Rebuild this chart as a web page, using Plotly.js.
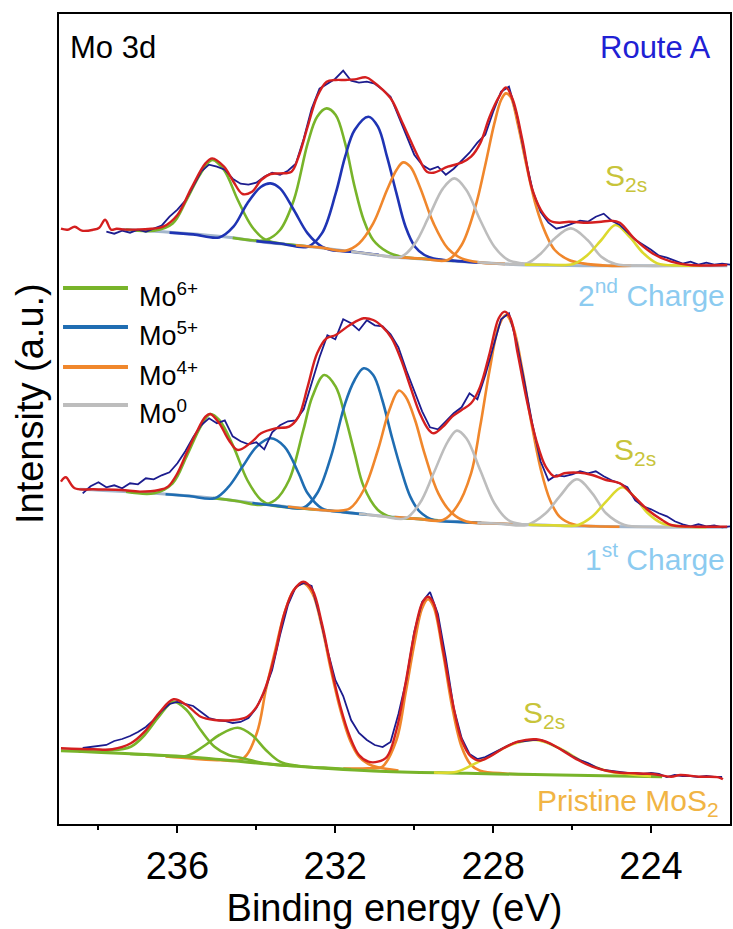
<!DOCTYPE html>
<html>
<head>
<meta charset="utf-8">
<script src="https://cdn.plot.ly/plotly-3.0.1.min.js"></script>
<style>html,body{margin:0;padding:0;background:#fff;}#chart{width:733px;height:929px;}</style>
</head>
<body>
<div id="chart"></div>
<script>
// ---------- DATA (binding energy in eV, intensity in a.u.) ----------
const stateNames = ["Mo<sup>6+</sup>", "Mo<sup>5+</sup>", "Mo<sup>4+</sup>", "Mo<sup>0</sup>"];
const spectrumLabels = ["2<sup>nd</sup> Charge", "1<sup>st</sup> Charge", "Pristine MoS<sub>2</sub>"];
const xTicks = [236, 232, 228, 224];

// ===== 2nd charge (top) =====
const topRawStart = 237.8;
const topRaw = [35,33,36,34,37,35,38,41,50,57, 66,80,95,102,100,97,88,83,82,84,
  90,94,92,96,103,128,158,178,183,188, 196,186,184,185,183,177,170,150,130,112,
  102,97,100,92,98,106,114,124,132,155, 175,180,152,112,76,55,44,38,40,43,
  46,45,50,53,46,42,34,27,22,17, 11,9,6,3,5,2,4,2,3,2];
const topFitE = [238.95,238.78,238.6,238.42,238.13,237.98,237.83,237.68,237.54,237.39,236.95,236.36,236.0,235.65,235.29,235.12,234.82,234.58,234.35,234.11,233.88,233.64,233.40,233.11,232.93,232.70,232.46,232.22,231.99,231.75,231.51,231.22,231.04,230.81,230.57,230.33,230.10,229.86,229.68,229.51,229.15,228.80,228.56,228.33,228.09,227.85,227.68,227.50,227.26,227.03,226.79,226.56,226.32,226.08,225.61,225.26,225.02,224.79,224.43,223.96,223.49,223.01,222.07];
const topFitI = [38,37,40,36,37,39,47,37,38,37.3,37.3,40,51.7,78.3,103.3,108.3,100,85,72.7,75,86.7,92.7,93.3,95,110,140,170,185,186.7,186.7,187.3,189.3,185,177.3,166.7,146.7,126.7,106.7,95,94,100,104,110,123.3,150,170,179.3,166.7,126.7,80,56.7,46,44,45,44,45,46,44,28.3,13.3,5,1.7,1.7];
const topBaseE = [237.4,237.07,234.82,233.88,232.22,230.57,228.68,227.50,225.14,222.07];
const topBaseI = [37.3,36.7,30,25,18.3,10,5,2.3,1,1];
const topMo6aE = [237.3,236.59,236.12,235.77,235.41,235.12,234.82,234.47,234.11,233.76,233.2,232.6];
const topMo6aI = [37.2,36,43.3,66.7,93.3,106.7,96.7,66.7,40,26.7,22.3,19.9];
const topMo6bE = [234.6,234.2,233.76,233.40,233.05,232.70,232.46,232.22,231.99,231.75,231.51,231.28,231.04,230.69,230.33,229.6,229.0];
const topMo6bI = [28.8,26.8,26.7,36.7,66.7,123.3,150,158.3,151.7,123.3,80,46.7,26.7,15,10,7.5,5.8];
const topMo5aE = [236.2,235.6,234.94,234.58,234.23,233.88,233.64,233.40,233.05,232.70,232.34,232.11,231.5,230.9];
const topMo5aI = [34.1,32.3,29.3,40,63.3,80,83.3,78.3,56.7,33.3,20,16.7,14.7,11.8];
const topMo5bE = [234.0,233.4,232.70,232.34,231.99,231.75,231.51,231.16,230.92,230.69,230.45,230.22,229.98,229.74,229.51,228.9,228.3];
const topMo5bI = [25.6,23.2,20,33.3,73.3,110,136.7,150,140,110,73.3,40,20,11.7,8.3,5.6,4.0];
const topMo4aE = [233.0,232.4,231.75,231.40,231.04,230.69,230.45,230.28,230.10,229.86,229.51,229.15,228.80,228.3,227.7];
const topMo4aI = [21.5,19.3,16,23.3,43.3,76.7,96.7,104.3,100,80,43.3,18.3,8.3,4.1,2.8];
const topMo0aE = [231.6,231.0,230.33,229.98,229.63,229.27,228.98,228.68,228.33,227.97,227.62,227.26,226.6];
const topMo0aI = [15.2,12.2,10,23.3,50,78.3,88.3,76.7,46.7,20,6.7,3.3,1.9];
const topMo4bE = [230.4,229.8,229.15,228.80,228.45,228.21,227.97,227.80,227.68,227.56,227.38,227.15,226.91,226.67,226.44,226.08,225.73,225.1,224.5];
const topMo4bI = [9.6,8.0,6.7,21.7,60,100,143.3,166.7,173.3,170,143.3,100,60,33.3,16.7,6.7,3.3,1.0,1.0];
const topMo0bE = [228.4,227.8,227.15,226.79,226.44,226.03,225.61,225.26,224.90,224.2,223.5];
const topMo0bI = [4.4,3.0,3.3,13.3,28.3,38.3,26.7,10,2.7,1.0,1.0];
const topS2sE = [227.2,226.6,225.97,225.61,225.26,224.90,224.55,224.19,223.84,223.3,222.7];
const topS2sI = [2.1,1.9,2.7,11.7,26.7,41.7,30,13.3,3.3,1.2,1.0];

// ===== 1st charge (middle) =====
const midRawStart = 238.4;
const midRaw = [40,47,51,46,48,45,50,49,55,54, 58,61,70,82,96,108,115,110,113,97,
  92,89,91,84,101,108,112,113,124,150, 176,198,194,214,210,203,213,208,207,199,
  186,163,142,122,106,104,112,120,126,140, 134,158,186,214,220,190,150,108,72,53,
  58,57,59,62,60,62,57,53,50,46, 33,27,24,20,17,12,9,7,9,7, 8,6,7];
const midFitE = [238.95,238.83,238.60,238.13,237.42,236.95,236.47,236.24,236.00,235.77,235.53,235.29,235.17,234.94,234.70,234.47,234.11,233.88,233.52,233.17,232.93,232.70,232.46,232.22,231.99,231.63,231.28,231.04,230.81,230.57,230.33,230.10,229.86,229.63,229.51,229.27,229.04,228.80,228.56,228.33,228.09,227.86,227.71,227.56,227.38,227.15,226.91,226.67,226.44,226.20,225.85,225.49,225.14,224.79,224.43,224.08,223.72,223.49,223.01,222.07];
const midFitI = [51.7,56,45,44,43.3,41.7,43.3,46.7,60,80,100,116.7,119.3,110,93.3,83.3,91.7,100,105,106.7,116.7,146.7,180,195,198.3,208.3,215,213.3,206.7,195,173.3,146.7,120,103.3,100,106.7,116.7,123.3,130,146.7,180,215,221.7,215,180,133.3,93.3,66.7,56.7,60,60.7,58.3,53.3,50,36.7,23.3,13.3,8.3,6.7,6.7];
const midBaseE = [238.48,236.59,235.06,233.82,232.22,230.45,228.68,226.91,225.14,222.07];
const midBaseI = [44,40,35,29,22.7,16,11,8.3,6.7,6];
const midMo6aE = [237.3,236.59,236.12,235.77,235.41,235.17,234.94,234.58,234.23,233.88,233.64,233.1,232.5];
const midMo6aI = [41.5,40,50,76.7,106.7,119.3,113.3,86.7,53.3,33.3,28.3,25.5,23.8];
const midMo5aE = [236.3,235.7,235.06,234.70,234.35,233.99,233.64,233.29,232.93,232.70,232.34,231.8,231.2];
const midMo5aI = [39.1,37.3,35,46.7,66.7,86.7,95,86.7,60,40,25,21.2,18.9];
const midMo6bE = [235.1,234.5,233.88,233.52,233.17,232.81,232.58,232.28,231.99,231.75,231.51,231.28,230.92,230.57,230.0,229.4];
const midMo6bI = [35.2,32.3,28.3,33.3,53.3,103.3,136.7,158.3,146.7,116.7,80,46.7,23.3,16,14.7,13.0];
const midMo5bE = [234.1,233.5,232.81,232.46,232.11,231.75,231.51,231.28,231.04,230.81,230.57,230.33,230.10,229.86,229.51,228.9,228.3];
const midMo5bI = [30.3,27.7,25.5,40,76.7,130,153.3,165,158.3,133.3,96.7,63.3,36.7,21.7,13.3,11.4,10.4];
const midMo4aE = [233.2,232.6,231.99,231.63,231.28,230.92,230.63,230.39,230.22,229.98,229.74,229.39,229.04,228.68,228.1,227.5];
const midMo4aI = [26.6,24.2,22.5,25,43.3,83.3,123.3,142.7,136.7,113.3,80,40,20,11.7,10.0,9.2];
const midMo0aE = [231.4,230.8,230.22,229.86,229.51,229.15,228.92,228.68,228.33,227.97,227.62,227.26,226.7,226.1];
const midMo0aI = [19.6,17.0,15,30,60,91.7,102.7,95,63.3,30,13.3,9,8.2,7.6];
const midMo4bE = [230.5,229.9,229.27,228.92,228.56,228.33,228.09,227.86,227.68,227.50,227.26,227.03,226.79,226.56,226.32,225.97,225.4,224.8];
const midMo4bI = [16.2,14.4,13.3,26.7,60,106.7,163.3,206.7,218.3,206.7,163.3,110,63.3,33.3,16.7,9,7.0,6.6];
const midMo0bE = [228.4,227.8,227.15,226.67,226.32,225.88,225.49,225.14,224.67,224.0,223.4];
const midMo0bI = [10.5,9.6,8.3,20,36.7,54,40,20,8.3,6.5,6.3];
const midS2sE = [227.1,226.5,225.85,225.49,225.14,224.73,224.43,224.08,223.72,223.2,222.6];
const midS2sI = [8.6,8.0,8.3,16.7,31.7,46,36.7,20,10,6.8,6.1];

// ===== Pristine MoS2 (bottom) =====
const botRawStart = 238.4;
const botRaw = [32,33,34,35,39,41,44,48,53,60, 69,76,78,76,74,68,62,60,59,57,
  58,62,72,88,110,145,175,193,197,194, 165,130,100,84,60,47,40,35,33,38,
  66,100,148,178,188,166,122,72,42,26, 21,23,27,31,35,38,39,40,40,37,
  33,29,24,20,17,13,10,9,8,7, 7,6,7,6,3,5,4,4,3,4, 3,3];
const botFitE = [238.95,238.13,237.65,237.18,236.83,236.47,236.10,235.77,235.41,235.06,234.58,234.23,233.99,233.76,233.52,233.29,233.05,232.81,232.58,232.34,232.11,231.87,231.63,231.40,231.16,230.92,230.69,230.45,230.22,229.98,229.80,229.65,229.51,229.27,229.04,228.80,228.56,228.33,228.09,227.74,227.38,226.91,226.56,226.20,225.85,225.49,225.14,224.79,224.43,223.96,223.49,223.26,222.78,222.29,222.18];
const botFitI = [31.7,30.7,30.7,36.7,48.3,66.7,80.7,75,63.3,60,60,63.3,73.3,93.3,126.7,166.7,190,198.3,190,156.7,113.3,73.3,43.3,25,18.3,18.3,23.3,50,96.7,150,176.7,183.3,176.7,130,80,40,23.3,19.3,23.3,31.7,38.3,40.7,36.7,28.3,20,13.3,9.3,7.3,6.7,6,3.3,5,3.3,2.7,0.7];
const botBaseE = [238.95,235.77,233.40,231.04,228.68,226.32,223.72];
const botBaseI = [29.3,23.3,15,9,6.7,5,3.3];
const botMo6aE = [238.5,237.77,237.18,236.83,236.47,236.10,235.77,235.41,235.06,234.70,234.35,233.7,233.0];
const botMo6aI = [28.4,29.3,33.3,45,63.3,78.3,70,50,33.3,25,21.7,16.1,14.0];
const botMo6bE = [237.2,236.5,235.77,235.29,234.94,234.47,234.11,233.76,233.40,232.93,232.3,231.6];
const botMo6bI = [26.0,24.7,24,35,45,52.3,45,30,18.3,14,12.4,10.6];
const botMo4aE = [236.3,235.6,234.9,234.35,233.99,233.76,233.52,233.29,233.05,232.81,232.58,232.34,232.11,231.87,231.63,231.40,231.16,230.92,230.4];
const botMo4aI = [23.5,21.3,19.8,21,46.7,90,130,166.7,190,196.7,186.7,153.3,110,70,40,23.3,16,12.7,9.5];
const botMo4bE = [231.8,231.16,230.81,230.45,230.22,229.98,229.80,229.65,229.51,229.27,229.04,228.80,228.56,228.33,227.7,227.0];
const botMo4bI = [11.5,11.7,13.3,40,86.7,140,171.7,180.7,173.3,126.7,73.3,33.3,15,9.3,6.5,5.7];
const botS2sE = [229.5,228.92,228.45,227.97,227.50,226.91,226.32,225.73,225.14,224.55,224.0];
const botS2sI = [7.5,8.3,16.7,26.7,36,40,31.7,18.3,9.3,5.7,3.8];

// ---------- STYLE / LAYOUT ----------
const RAW_STEP = 0.2;
const OFF = {top: 557.3, mid: 290.7, bot: 44};
const C = {raw: "#1c1c8e", fit: "#d41f1f", mo6: "#78b42a", mo5: "#1f6db2", mo5top: "#1f34b4",
           mo4: "#f0872c", mo0: "#bdbdbd", s2s: "#dcd92e", base: "#a3b6cc"};
const FONT = "Arial, 'Liberation Sans', sans-serif";

function curve(E, I, off, color, width) {
  return {x: E, y: I.map(v => v + off), type: "scatter", mode: "lines",
    line: {color: color, width: width || 2.6, shape: "spline", smoothing: 1},
    hoverinfo: "skip", showlegend: false};
}
function raw(start, I, off) {
  const E = I.map((_, k) => +(start - k * RAW_STEP).toFixed(2));
  return {x: E, y: I.map(v => v + off), type: "scatter", mode: "lines",
    line: {color: C.raw, width: 1.8}, hoverinfo: "skip", showlegend: false};
}

const traces = [
  // top
  curve(topBaseE, topBaseI, OFF.top, C.base, 3),
  curve(topMo6aE, topMo6aI, OFF.top, C.mo6), curve(topMo6bE, topMo6bI, OFF.top, C.mo6),
  curve(topMo5aE, topMo5aI, OFF.top, C.mo5top), curve(topMo5bE, topMo5bI, OFF.top, C.mo5top),
  curve(topMo4aE, topMo4aI, OFF.top, C.mo4), curve(topMo4bE, topMo4bI, OFF.top, C.mo4),
  curve(topMo0aE, topMo0aI, OFF.top, C.mo0), curve(topMo0bE, topMo0bI, OFF.top, C.mo0),
  curve(topS2sE, topS2sI, OFF.top, C.s2s),
  raw(topRawStart, topRaw, OFF.top),
  curve(topFitE, topFitI, OFF.top, C.fit, 2.4),
  // middle
  curve(midBaseE, midBaseI, OFF.mid, C.base, 3),
  curve(midMo6aE, midMo6aI, OFF.mid, C.mo6), curve(midMo6bE, midMo6bI, OFF.mid, C.mo6),
  curve(midMo5aE, midMo5aI, OFF.mid, C.mo5), curve(midMo5bE, midMo5bI, OFF.mid, C.mo5),
  curve(midMo4aE, midMo4aI, OFF.mid, C.mo4), curve(midMo4bE, midMo4bI, OFF.mid, C.mo4),
  curve(midMo0aE, midMo0aI, OFF.mid, C.mo0), curve(midMo0bE, midMo0bI, OFF.mid, C.mo0),
  curve(midS2sE, midS2sI, OFF.mid, C.s2s),
  raw(midRawStart, midRaw, OFF.mid),
  curve(midFitE, midFitI, OFF.mid, C.fit, 2.4),
  // bottom
  curve(botMo4aE, botMo4aI, OFF.bot, C.mo4), curve(botMo4bE, botMo4bI, OFF.bot, C.mo4),
  curve(botBaseE, botBaseI, OFF.bot, C.mo6, 3),
  curve(botMo6aE, botMo6aI, OFF.bot, C.mo6), curve(botMo6bE, botMo6bI, OFF.bot, C.mo6),
  curve(botS2sE, botS2sI, OFF.bot, C.s2s),
  raw(botRawStart, botRaw, OFF.bot),
  curve(botFitE, botFitI, OFF.bot, C.fit, 2.4)
];

const legendColors = [C.mo6, C.mo5, C.mo4, C.mo0];
const legendY = [0.6617, 0.6136, 0.5642, 0.5173];
const shapes = legendY.map((y, k) => ({type: "line", xref: "paper", yref: "paper",
  x0: 0.006, x1: 0.1028, y0: y, y1: y, line: {color: legendColors[k], width: 4}}));

function ann(text, x, y, xanchor, color, size) {
  return {text: text, x: x, y: y, xref: "paper", yref: "paper", xanchor: xanchor, yanchor: "middle",
    showarrow: false, font: {family: FONT, size: size, color: color}};
}
const annotations = [
  ann("Mo 3d", 0.0134, 0.959, "left", "#000000", 31),
  ann("Route A", 0.9747, 0.959, "right", "#2020d4", 31),
  ann(spectrumLabels[0], 0.9955, 0.655, "right", "#8ccbf0", 30),
  ann(spectrumLabels[1], 0.9955, 0.330, "right", "#8ccbf0", 30),
  ann(spectrumLabels[2], 0.9865, 0.027, "right", "#f1b444", 30),
  ann("S<sub>2s</sub>", 0.8107, 0.798, "left", "#c8c43a", 30),
  ann("S<sub>2s</sub>", 0.824, 0.460, "left", "#c8c43a", 30),
  ann("S<sub>2s</sub>", 0.6885, 0.135, "left", "#c8c43a", 30),
  Object.assign(ann("Intensity (a.u.)", -0.0432, 0.5185, "center", "#000000", 38), {textangle: -90})
].concat(stateNames.map((t, k) => ann(t, 0.1162, legendY[k] - 0.009, "left", "#000000", 27)));

const layout = {
  width: 733, height: 929,
  margin: {l: 59, r: 3, t: 14, b: 105},
  paper_bgcolor: "#ffffff", plot_bgcolor: "#ffffff",
  font: {family: FONT, color: "#000000"},
  showlegend: false,
  xaxis: {
    range: [239, 222], tickvals: xTicks, ticktext: xTicks.map(String),
    ticks: "outside", ticklen: 7, tickwidth: 2, tickcolor: "#000",
    minor: {tickvals: [238, 234, 230, 226], ticks: "outside", ticklen: 4, tickwidth: 2, tickcolor: "#000"},
    showline: true, linewidth: 2, linecolor: "#000", mirror: true,
    showgrid: false, zeroline: false,
    tickfont: {family: FONT, size: 38, color: "#000"},
    title: {text: "Binding energy (eV)", font: {family: FONT, size: 38, color: "#000"}, standoff: 8}
  },
  yaxis: {
    range: [0, 810], showticklabels: false, ticks: "",
    showline: true, linewidth: 2, linecolor: "#000", mirror: true,
    showgrid: false, zeroline: false
  },
  shapes: shapes,
  annotations: annotations
};

Plotly.newPlot("chart", traces, layout, {displayModeBar: false, staticPlot: true});
</script>
</body>
</html>
